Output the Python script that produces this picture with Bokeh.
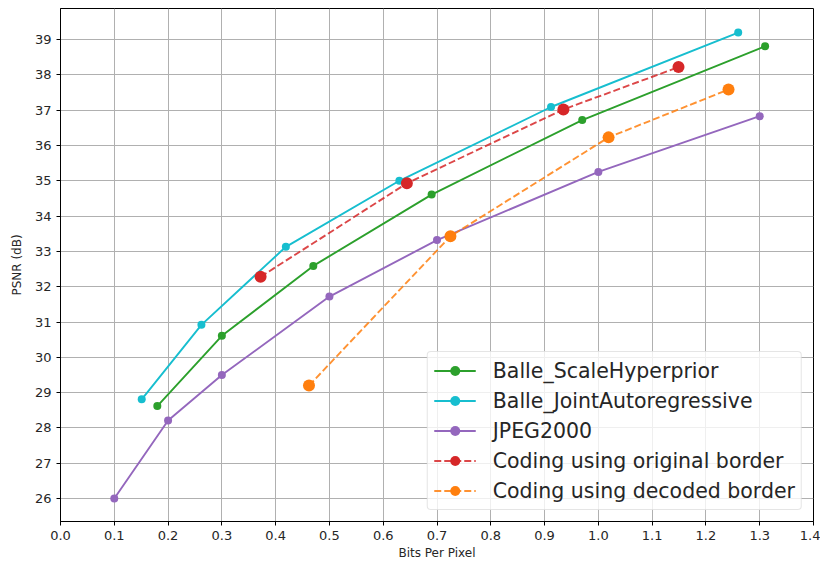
from bokeh.plotting import figure
from bokeh.models import Range1d, FixedTicker, PrintfTickFormatter
from bokeh.embed import file_html
from bokeh.resources import INLINE

# ---- data ----
hyper_bpp = [0.18, 0.30, 0.47, 0.69, 0.97, 1.31]
hyper_psnr = [28.62, 30.61, 32.59, 34.61, 36.72, 38.81]

joint_bpp = [0.151, 0.262, 0.419, 0.630, 0.912, 1.26]
joint_psnr = [28.81, 30.92, 33.13, 35.0, 37.09, 39.2]

jpeg_bpp = [0.10, 0.20, 0.30, 0.50, 0.70, 1.00, 1.30]
jpeg_psnr = [26.0, 28.21, 29.5, 31.72, 33.32, 35.25, 36.83]

orig_bpp = [0.372, 0.644, 0.935, 1.149]
orig_psnr = [32.28, 34.93, 37.02, 38.22]

dec_bpp = [0.462, 0.725, 1.019, 1.242]
dec_psnr = [29.2, 33.43, 36.23, 37.585]

x_ticks = [round(0.1 * i, 1) for i in range(15)]
y_ticks = list(range(26, 40))

FONT = "DejaVu Sans"
TXT = "#262626"

p = figure(width=820, height=562, output_backend="svg", toolbar_location=None,
           x_range=Range1d(0.0, 1.4), y_range=Range1d(25.35, 39.88),
           min_border_left=60, min_border_right=7, min_border_top=8, min_border_bottom=41,
           x_axis_label="Bits Per Pixel", y_axis_label="PSNR (dB)")

p.outline_line_color = "black"
p.outline_line_width = 1
p.background_fill_color = "white"

for ax in (p.xaxis[0], p.yaxis[0]):
    ax.axis_line_color = "black"
    ax.major_tick_line_color = "black"
    ax.major_tick_in = 0
    ax.major_tick_out = 4
    ax.minor_tick_line_color = None
    ax.major_label_text_font = FONT
    ax.major_label_text_font_size = "13px"
    ax.major_label_text_color = TXT
    ax.axis_label_text_font = FONT
    ax.axis_label_text_font_size = "12px"
    ax.axis_label_text_font_style = "normal"
    ax.axis_label_text_color = TXT

p.xaxis.ticker = FixedTicker(ticks=x_ticks)
p.xaxis.formatter = PrintfTickFormatter(format="%.1f")
p.xaxis.major_label_standoff = 5
p.xaxis.axis_label_standoff = 3
p.yaxis.ticker = FixedTicker(ticks=y_ticks)
p.yaxis.major_label_standoff = 5
p.yaxis.axis_label_standoff = 8

p.xgrid.ticker = FixedTicker(ticks=x_ticks)
p.ygrid.ticker = FixedTicker(ticks=y_ticks)
p.grid.grid_line_color = "#b0b0b0"
p.grid.grid_line_width = 1

series = [
    ("Balle_ScaleHyperprior", hyper_bpp, hyper_psnr, "#2ca02c", "solid", 8),
    ("Balle_JointAutoregressive", joint_bpp, joint_psnr, "#17becf", "solid", 8),
    ("JPEG2000", jpeg_bpp, jpeg_psnr, "#9467bd", "solid", 8),
    ("Coding using original border", orig_bpp, orig_psnr, "#d62728", "7 3", 12),
    ("Coding using decoded border", dec_bpp, dec_psnr, "#ff7f0e", "7 3", 12),
]

for label, xs, ys, color, dash, size in series:
    alpha = 0.85 if dash != "solid" else 1.0
    p.line(xs, ys, line_color=color, line_width=1.9, line_dash=dash,
           line_alpha=alpha, legend_label=label)
    p.scatter(xs, ys, size=size, fill_color=color, line_color=color,
              line_width=0, legend_label=label)

lg = p.legend[0]
lg.location = "bottom_right"
lg.margin = 11
lg.padding = 6
lg.spacing = 5
lg.label_height = 25
lg.glyph_height = 25
lg.glyph_width = 42
lg.label_standoff = 17
lg.label_text_font = FONT
lg.label_text_font_size = "20.5px"
lg.label_text_color = TXT
lg.border_line_color = "#cccccc"
lg.border_line_width = 1
lg.background_fill_color = "white"
lg.background_fill_alpha = 0.8
lg.border_radius = 4

open("out.html", "w").write(file_html(p, INLINE))
